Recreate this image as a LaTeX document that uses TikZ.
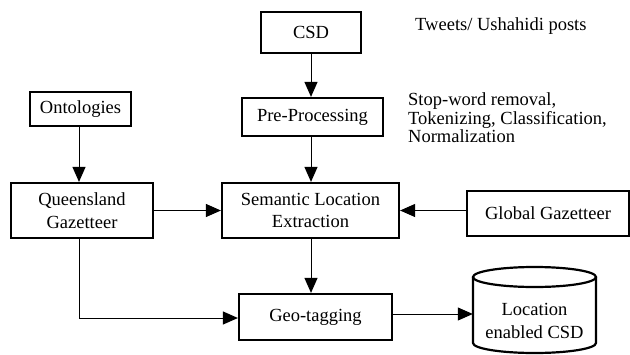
\documentclass[tikz,border=0pt]{standalone}
\usepackage{fontspec}
\setmainfont{Liberation Serif}
\usetikzlibrary{arrows.meta}
\begin{document}
\begin{tikzpicture}[x=1pt,y=-1pt,
  every node/.style={font=\fontsize{18.5}{22.5}\selectfont},
  box/.style={draw, line width=2.2pt, inner sep=0pt, align=center},
  arr/.style={line width=1pt, -{Triangle[length=15pt,width=13pt]}},
  note/.style={align=left, anchor=west, inner sep=0pt, font=\fontsize{18.5}{18.5}\selectfont}]
\useasboundingbox (0,0) rectangle (630,354);
\node[box, minimum width=100pt, minimum height=41pt] (csd) at (311,32.5) {CSD};
\node[box, minimum width=141pt, minimum height=38pt] (pre) at (312.5,117) {Pre-Processing};
\node[box, minimum width=101pt, minimum height=34pt] (ont) at (80.5,109) {Ontologies};
\node[box, minimum width=142pt, minimum height=55pt] (qg) at (82,210.5) {Queensland\\Gazetteer};
\node[box, minimum width=177pt, minimum height=55pt] (sem) at (310.5,210.5) {Semantic Location\\Extraction};
\node[box, minimum width=162pt, minimum height=45pt] (glob) at (548,213.5) {Global Gazetteer};
\node[box, minimum width=153pt, minimum height=46pt] (geo) at (315.5,317) {Geo-tagging};
\node[minimum width=123pt, minimum height=86pt, inner sep=0pt] (cyl) at (534.5,310) {};
\draw[line width=2.2pt] (473,277) -- (473,343) arc[start angle=180,end angle=360,x radius=61.5pt,y radius=10pt] -- (596,277);
\draw[line width=2.2pt] (534.5,277) ellipse [x radius=61.5pt, y radius=10pt];
\node[align=center, inner sep=0pt] (cyltext) at (534.5,321) {Location\\enabled CSD};
\node[note] (tweets) at (415,26) {Tweets/ Ushahidi posts};
\node[note] (stop) at (408,118) {Stop-word removal,\\Tokenizing, Classification,\\Normalization};
\draw[arr] (csd.south -| 311,0) -- (pre.north -| 311,0);
\draw[arr] (ont.south -| 79,0) -- (qg.north -| 79,0);
\draw[arr] (pre.south -| 311,0) -- (sem.north -| 311,0);
\draw[arr] (qg.east) -- (sem.west);
\draw[arr] (glob.west |- sem.east) -- (sem.east);
\draw[arr] (sem.south -| 311,0) -- (geo.north -| 311,0);
\draw[arr] (qg.south -| 79,0) -- (79,318) -- (geo.west |- 0,318);
\draw[arr] (geo.east |- 0,314) -- (cyl.west |- 0,314);
\end{tikzpicture}
\end{document}
